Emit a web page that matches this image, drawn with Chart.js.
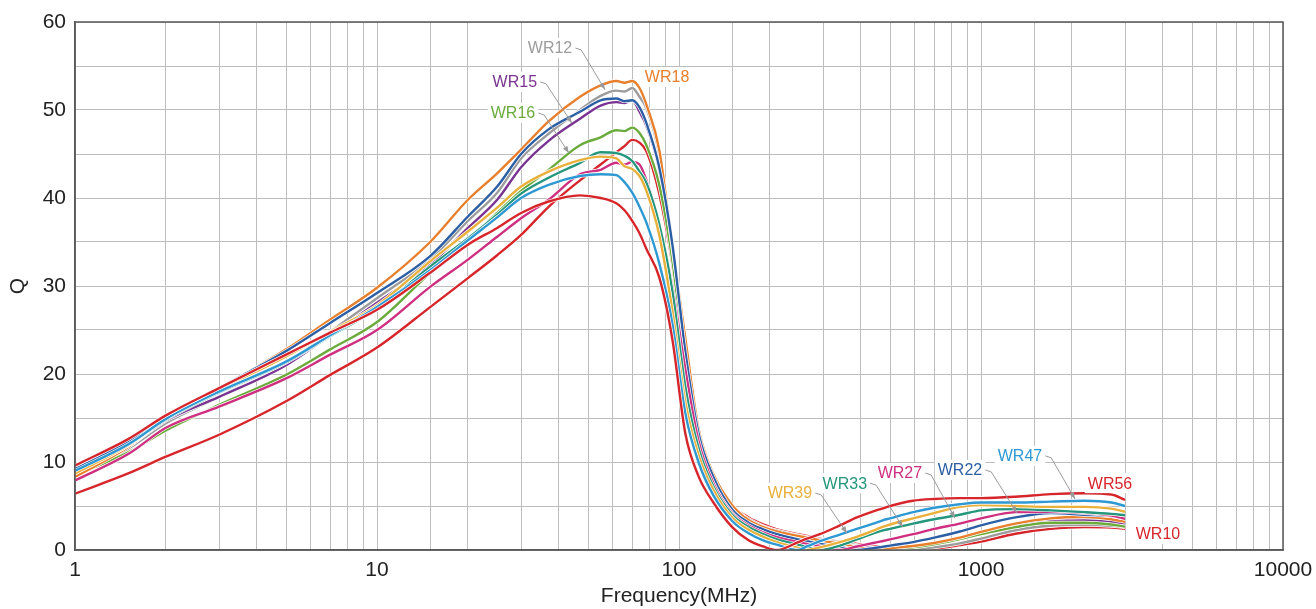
<!DOCTYPE html>
<html><head><meta charset="utf-8">
<script src="https://cdn.jsdelivr.net/npm/chart.js@4.4.1/dist/chart.umd.min.js"></script>
<style>html,body{margin:0;padding:0;background:#fff}</style>
</head><body>
<canvas id="c" width="1316" height="609"></canvas>
<script>
// Frequency grid (MHz)
const FREQ = [1, 1.5, 2, 3, 5, 7, 10, 15, 20, 25, 30, 37, 47, 55, 62, 66, 70, 74, 78, 86, 95, 105, 116, 130, 150, 170, 190, 211, 248, 265, 293, 341, 388, 440, 470, 500, 596, 700, 850, 1000, 1300, 1700, 2200, 2700, 3000];

// Q values per series
const WR56 = [9.6, 12.6, 15.3, 18.4, 22.2, 24.7, 27.3, 31.5, 34.7, 36.6, 38.3, 39.6, 40.3, 40.0, 39.4, 38.6, 37.4, 36.0, 34.2, 31.0, 24.0, 13.2, 8.4, 5.4, 2.6, 1.1, 0.4, 0, 0.9, 1.3, 1.8, 2.8, 3.7, 4.4, 4.7, 5.0, 5.6, 5.8, 5.9, 5.9, 6.05, 6.35, 6.45, 6.3, 5.7];
const WR47 = [9.0, 12.0, 14.9, 18.0, 21.4, 24.4, 27.6, 31.8, 35.2, 37.8, 40.0, 41.5, 42.5, 42.7, 42.6, 41.8, 40.6, 39.0, 37.2, 32.6, 25.8, 15.5, 10.0, 6.2, 3.3, 1.9, 1.1, 0.6, 0, 0.4, 1.0, 1.75, 2.4, 3.0, 3.35, 3.6, 4.3, 4.8, 5.2, 5.4, 5.4, 5.5, 5.6, 5.4, 5.0];
const WR39 = [8.7, 11.9, 15.0, 18.2, 22.0, 24.8, 27.8, 32.8, 36.2, 38.9, 41.3, 43.0, 44.3, 44.7, 44.5, 43.6, 43.3, 42.5, 40.8, 35.8, 27.3, 16.8, 10.8, 6.8, 3.7, 2.3, 1.5, 0.9, 0.25, 0, 0.3, 0.9, 1.5, 2.2, 2.6, 2.9, 3.6, 4.2, 4.9, 5.1, 5.0, 4.9, 4.9, 4.7, 4.35];
const WR33 = [8.9, 11.9, 14.8, 17.9, 21.3, 24.3, 27.4, 32.2, 35.4, 38.1, 40.5, 42.3, 44.0, 45.2, 45.1, 44.8, 44.2, 43.0, 41.7, 37.0, 29.5, 18.5, 11.6, 7.2, 4.0, 2.6, 1.8, 1.2, 0.6, 0.35, 0, 0.5, 1.2, 1.9, 2.2, 2.4, 3.0, 3.5, 4.0, 4.5, 4.65, 4.5, 4.3, 4.1, 3.95];
const WR27 = [7.9, 10.9, 13.9, 16.3, 19.5, 22.2, 25.0, 29.9, 33.0, 35.6, 37.7, 39.8, 42.7, 43.2, 44.0, 43.8, 44.1, 43.8, 42.0, 37.0, 30.0, 20.5, 12.4, 7.6, 4.2, 2.8, 2.0, 1.45, 0.9, 0.7, 0.45, 0, 0.4, 0.8, 1.0, 1.2, 1.8, 2.4, 3.0, 3.6, 4.3, 4.35, 4.2, 3.9, 3.55];
const WR22 = [9.2, 12.3, 15.2, 18.4, 22.6, 25.8, 29.2, 33.4, 37.9, 41.3, 45.0, 47.8, 49.8, 51.1, 51.3, 51.0, 51.1, 50.3, 48.5, 43.5, 34.8, 22.5, 13.3, 8.3, 4.6, 3.1, 2.35, 1.8, 1.2, 1.0, 0.7, 0.35, 0, 0.2, 0.35, 0.5, 0.9, 1.4, 2.1, 2.8, 3.7, 4.2, 4.0, 3.85, 3.6];
const WR18 = [8.3, 11.7, 15.0, 18.3, 22.8, 26.2, 29.8, 35.0, 39.8, 42.8, 45.5, 48.7, 51.5, 52.8, 53.3, 53.1, 53.3, 52.5, 50.6, 45.5, 34.5, 24.0, 13.8, 8.6, 5.1, 3.4, 2.6, 2.1, 1.6, 1.4, 1.1, 0.7, 0.35, 0, 0.1, 0.2, 0.45, 0.8, 1.4, 2.05, 3.0, 3.6, 3.75, 3.5, 3.2];
const WR16 = [8.5, 11.1, 13.6, 16.5, 19.9, 22.8, 25.9, 31.5, 35.2, 38.3, 40.8, 43.2, 46.0, 46.9, 47.7, 47.6, 48.0, 47.4, 46.0, 41.5, 33.0, 21.0, 12.9, 8.0, 4.7, 3.2, 2.4, 1.85, 1.3, 1.1, 0.85, 0.5, 0.25, 0.05, 0, 0.1, 0.3, 0.65, 1.25, 1.8, 2.6, 3.1, 3.1, 2.9, 2.65];
const WR15 = [8.8, 11.8, 14.7, 17.4, 21.0, 24.4, 28.1, 32.4, 36.6, 39.8, 43.5, 46.5, 49.0, 50.5, 50.9, 50.8, 51.1, 49.8, 48.2, 43.3, 34.2, 22.2, 13.2, 8.2, 4.8, 3.3, 2.5, 2.0, 1.45, 1.25, 1.0, 0.65, 0.4, 0.15, 0, 0.05, 0.35, 0.7, 1.35, 1.9, 2.75, 3.3, 3.35, 3.2, 3.0];
const WR12 = [8.6, 11.5, 14.4, 17.4, 21.2, 24.8, 28.6, 33.0, 37.4, 40.6, 44.5, 47.3, 50.0, 51.6, 52.2, 52.1, 52.5, 51.5, 50.2, 45.0, 35.0, 23.3, 13.5, 8.4, 5.0, 3.5, 2.7, 2.2, 1.65, 1.45, 1.2, 0.85, 0.55, 0.3, 0.15, 0, 0.1, 0.3, 0.75, 1.3, 2.25, 2.75, 2.85, 2.75, 2.6];
const WR10 = [6.4, 8.7, 10.6, 13.1, 16.9, 19.9, 23.0, 27.6, 30.9, 33.5, 35.8, 39.0, 42.0, 43.8, 45.2, 45.9, 46.6, 46.3, 45.3, 40.5, 32.5, 21.0, 12.7, 8.0, 5.0, 3.7, 2.9, 2.35, 1.8, 1.6, 1.3, 0.95, 0.7, 0.45, 0.35, 0.25, 0, 0.15, 0.55, 0.95, 1.85, 2.4, 2.6, 2.55, 2.4];

// Axis tick values
const X_TICK_LABELS = [1, 10, 100, 1000, 10000];
const Y_TICK_LABELS = [0, 10, 20, 30, 40, 50, 60];

const SERIES = [
  {name: 'WR56', data: WR56, color: '#d7262b'},
  {name: 'WR47', data: WR47, color: '#2e98d3'},
  {name: 'WR39', data: WR39, color: '#e9b03b'},
  {name: 'WR33', data: WR33, color: '#23967c'},
  {name: 'WR27', data: WR27, color: '#cf2f80'},
  {name: 'WR22', data: WR22, color: '#2b5ea4'},
  {name: 'WR18', data: WR18, color: '#e77f2c'},
  {name: 'WR16', data: WR16, color: '#6aab3b'},
  {name: 'WR15', data: WR15, color: '#7a3391'},
  {name: 'WR12', data: WR12, color: '#9c9c9c'},
  {name: 'WR10', data: WR10, color: '#d7262b'}
];

// Callout labels: text centre and optional arrow tip, in data units (MHz, Q)
const CALLOUTS = [
  {text: 'WR12', color: '#9c9c9c', at: [37.4, 57.05], tip: [56.9, 52.3]},
  {text: 'WR15', color: '#7a3391', at: [28.6, 53.2], tip: [44.2, 48.5]},
  {text: 'WR16', color: '#6aab3b', at: [28.2, 49.66], tip: [43.2, 45.1]},
  {text: 'WR18', color: '#e77f2c', at: [91.3, 53.75]},
  {text: 'WR39', color: '#e9b03b', at: [233, 6.48], tip: [360, 1.9]},
  {text: 'WR33', color: '#23967c', at: [354, 7.6], tip: [551, 2.6]},
  {text: 'WR27', color: '#cf2f80', at: [539, 8.75], tip: [820, 3.6]},
  {text: 'WR22', color: '#2b5ea4', at: [852, 9.1], tip: [1316, 4.2]},
  {text: 'WR47', color: '#2e98d3', at: [1346, 10.7], tip: [2048, 5.8]},
  {text: 'WR56', color: '#d7262b', at: [2674, 7.6]},
  {text: 'WR10', color: '#d7262b', at: [3855, 1.82]}
];

const FONT = '"Liberation Sans", Arial, Helvetica, sans-serif';

const datasets = [];
SERIES.forEach((s, k) => {
  const pts = FREQ.map((f, i) => ({x: f, y: s.data[i]}));
  datasets.push({label: s.name, data: pts, borderColor: s.color, borderWidth: 2.4,
    pointRadius: 0, cubicInterpolationMode: 'monotone', fill: false, order: 2 * k});
  datasets.push({label: s.name + '_halo', data: pts, borderColor: '#ffffff', borderWidth: 3.8,
    pointRadius: 0, cubicInterpolationMode: 'monotone', fill: false, order: 2 * k + 1});
});

const frame = {
  id: 'frame',
  afterDatasetsDraw(chart) {
    const {ctx, chartArea: a} = chart;
    ctx.save();
    ctx.strokeStyle = '#5a5a5a';
    ctx.lineWidth = 1.5;
    ctx.strokeRect(a.left, a.top, a.right - a.left, a.bottom - a.top);
    ctx.restore();
  }
};

const callouts = {
  id: 'callouts',
  afterDraw(chart) {
    const {ctx} = chart;
    const xs = chart.scales.x, ys = chart.scales.y;
    ctx.save();
    ctx.font = '16px ' + FONT;
    ctx.textBaseline = 'middle';
    ctx.textAlign = 'center';
    CALLOUTS.forEach(c => {
      const cx = xs.getPixelForValue(c.at[0]);
      const cy = ys.getPixelForValue(c.at[1]);
      const w = ctx.measureText(c.text).width;
      if (c.tip) {
        const tx = xs.getPixelForValue(c.tip[0]);
        const ty = ys.getPixelForValue(c.tip[1]);
        const sx = cx + w / 2 + 3, sy = cy;
        const ex = sx + 6, ey = sy + 2;
        ctx.strokeStyle = '#9a9a9a';
        ctx.lineWidth = 1;
        ctx.beginPath();
        ctx.moveTo(sx, sy); ctx.lineTo(ex, ey); ctx.lineTo(tx, ty);
        ctx.stroke();
        const ang = Math.atan2(ty - ey, tx - ex);
        const L = 7, H = 2.6;
        ctx.fillStyle = '#9a9a9a';
        ctx.beginPath();
        ctx.moveTo(tx, ty);
        ctx.lineTo(tx - L * Math.cos(ang) + H * Math.sin(ang), ty - L * Math.sin(ang) - H * Math.cos(ang));
        ctx.lineTo(tx - L * Math.cos(ang) - H * Math.sin(ang), ty - L * Math.sin(ang) + H * Math.cos(ang));
        ctx.closePath();
        ctx.fill();
      }
      ctx.fillStyle = '#ffffff';
      ctx.fillRect(cx - w / 2 - 3, cy - 10, w + 6, 20);
      ctx.fillStyle = c.color;
      ctx.fillText(c.text, cx, cy + 1);
    });
    ctx.restore();
  }
};

new Chart(document.getElementById('c'), {
  type: 'line',
  data: {datasets},
  options: {
    responsive: false,
    animation: false,
    devicePixelRatio: 1,
    layout: {padding: {left: 0, right: 33, top: 22, bottom: 0}},
    plugins: {legend: {display: false}, tooltip: {enabled: false}},
    scales: {
      x: {
        type: 'logarithmic', min: 1, max: 10000,
        grid: {color: '#bdbdbd', lineWidth: 1, drawTicks: false},
        border: {color: '#5a5a5a', width: 1.5},
        ticks: {
          autoSkip: false, maxRotation: 0, padding: 8, color: '#222',
          font: {size: 21, family: FONT},
          callback: (v) => X_TICK_LABELS.includes(Number(v)) ? String(v) : ''
        },
        title: {display: true, text: 'Frequency(MHz)', color: '#222', font: {size: 21, family: FONT}, padding: {top: 0, bottom: 0}},
        afterFit: (s) => { s.height = 59; s.paddingLeft = 0; s.paddingRight = 0; }
      },
      y: {
        type: 'linear', min: 0, max: 60,
        grid: {color: '#bdbdbd', lineWidth: 1, drawTicks: false},
        border: {color: '#5a5a5a', width: 1.5},
        ticks: {
          stepSize: 5, padding: 9, color: '#222',
          font: {size: 21, family: FONT},
          callback: (v) => Y_TICK_LABELS.includes(Number(v)) ? String(v) : ''
        },
        title: {display: true, text: 'Q', color: '#222', font: {size: 21, family: FONT}, padding: {top: 6, bottom: 0}},
        afterFit: (s) => { s.width = 75; s.paddingTop = 0; s.paddingBottom = 0; }
      }
    }
  },
  plugins: [frame, callouts]
});
</script>
</body></html>
